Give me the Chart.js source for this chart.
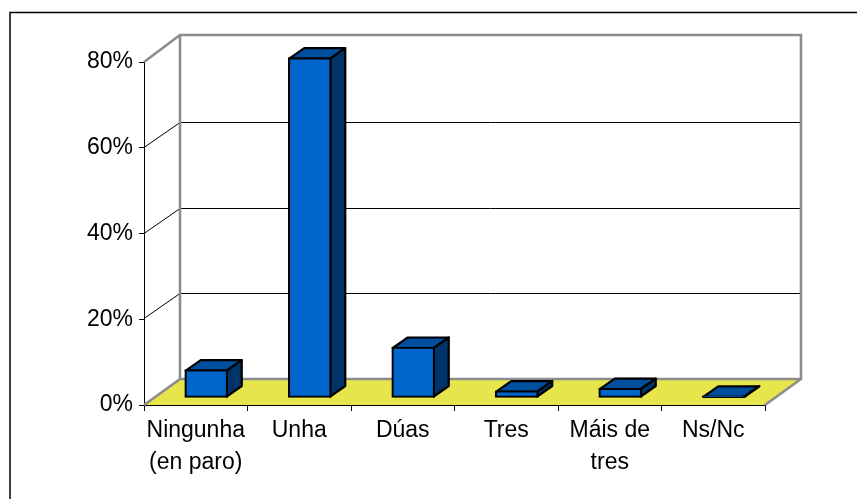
<!DOCTYPE html>
<html>
<head>
<meta charset="utf-8">
<style>html,body{margin:0;padding:0;background:#fff}canvas{display:block}</style>
<script src="https://cdn.jsdelivr.net/npm/chart.js@4"></script>
</head>
<body>
<div style="width:857px;height:499px"><canvas id="c" width="857" height="499"></canvas></div>
<script>
const categories = [["Ningunha","(en paro)"],"Unha","Dúas","Tres",["Máis de","tres"],"Ns/Nc"];
const shares = [6.6, 79.4, 11.9, 1.7, 2.3, 0.5];
const tickStep = 20;
const axisMax = 80;

const depthX = 36, depthY = 26;
const barShiftX = 10.5, barShiftY = -7;
const barDepthX = 15, barDepthY = 10.5;
const wallGray = '#8c8c8c';

const scene = {
  id: 'scene',
  beforeDraw(chart) {
    const c = chart.ctx;
    c.save();
    c.strokeStyle = '#000'; c.lineWidth = 1.5;
    c.beginPath(); c.moveTo(10, 499); c.lineTo(10, 12.5); c.lineTo(857, 12.5); c.stroke();
    c.restore();
  },
  beforeDatasetsDraw(chart) {
    const c = chart.ctx, a = chart.chartArea, y = chart.scales.y;
    const L = a.left, R = a.right, B = a.bottom, T = a.top;
    c.save();
    // floor
    c.fillStyle = '#e6e64c';
    c.beginPath(); c.moveTo(L, B); c.lineTo(L + depthX, B - depthY); c.lineTo(R + depthX, B - depthY); c.lineTo(R, B); c.closePath(); c.fill();
    // grid lines on side and back walls
    c.strokeStyle = '#000'; c.lineWidth = 1;
    y.ticks.forEach(t => {
      if (t.value === 0 || t.value === axisMax) return;
      const p = Math.round(y.getPixelForValue(t.value)) + .5;
      c.beginPath(); c.moveTo(L, p - 1); c.lineTo(L + depthX, p - depthY);
      c.lineTo(R + depthX, p - depthY); c.stroke();
    });
    // wall outline
    c.strokeStyle = wallGray; c.lineWidth = 2.6;
    c.beginPath();
    c.moveTo(L, T); c.lineTo(L + depthX, T - depthY - 1); c.lineTo(R + depthX, T - depthY - 1);
    c.lineTo(R + depthX, B - depthY); c.lineTo(L + depthX, B - depthY);
    c.moveTo(L + depthX, T - depthY - 1); c.lineTo(L + depthX, B - depthY); c.lineTo(L, B);
    c.moveTo(R + depthX, B - depthY); c.lineTo(R, B);
    c.stroke();
    c.restore();
  },
  beforeDatasetDraw(chart, args) {
    const c = chart.ctx;
    c.save();
    c.translate(barShiftX, barShiftY);
    chart.getDatasetMeta(args.index).data.forEach(el => {
      const l = el.x - el.width / 2 + 1, r = el.x + el.width / 2 - 1, t = el.y + 1, b = el.base - 1;
      c.lineWidth = 2.2; c.strokeStyle = '#000'; c.lineJoin = 'round';
      c.fillStyle = '#004f9e';
      c.beginPath(); c.moveTo(l, t); c.lineTo(l + barDepthX, t - barDepthY); c.lineTo(r + barDepthX, t - barDepthY); c.lineTo(r, t); c.closePath(); c.fill(); c.stroke();
      c.fillStyle = '#003468';
      c.beginPath(); c.moveTo(r, t); c.lineTo(r + barDepthX, t - barDepthY); c.lineTo(r + barDepthX, b - barDepthY); c.lineTo(r, b); c.closePath(); c.fill(); c.stroke();
    });
  },
  afterDatasetDraw(chart) { chart.ctx.restore(); }
};

new Chart(document.getElementById('c'), {
  type: 'bar',
  data: { labels: categories, datasets: [{
    data: shares, backgroundColor: '#0066cc', borderColor: '#000', borderWidth: 2.2,
    borderSkipped: false, barThickness: 43, clip: false
  }]},
  plugins: [scene],
  options: {
    responsive: false, animation: false,
    layout: { padding: { left: 0, top: 62, right: 92, bottom: 0 } },
    plugins: { legend: { display: false }, tooltip: { enabled: false } },
    scales: {
      x: {
        afterFit(s) { s.height = 94; },
        border: { color: '#000', width: 1 },
        grid: { drawOnChartArea: false, drawTicks: true, tickLength: 6, color: '#000' },
        ticks: { color: '#000', padding: 4, maxRotation: 0, autoSkip: false,
          font: { family: '"Liberation Sans", Arial', size: 23, lineHeight: 1.39 } }
      },
      y: {
        min: 0, max: axisMax,
        afterFit(s) { s.width = 144; },
        border: { color: '#000', width: 1 },
        grid: { drawOnChartArea: false, drawTicks: true, tickLength: 5, color: '#000' },
        ticks: { color: '#000', padding: 6, stepSize: tickStep, callback: v => v + '%',
          font: { family: '"Liberation Sans", Arial', size: 23 } }
      }
    }
  }
});
</script>
</body>
</html>
